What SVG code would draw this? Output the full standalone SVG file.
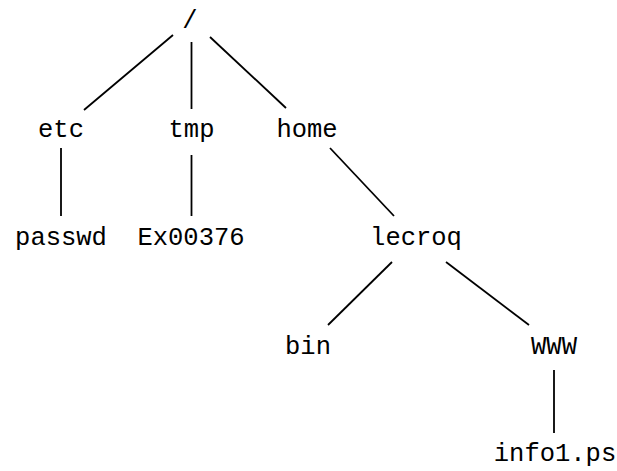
<svg xmlns="http://www.w3.org/2000/svg" width="617" height="471" viewBox="0 0 617 471">
<style>
.t{font-family:"Liberation Mono","DejaVu Sans Mono",monospace;font-size:25.5px;fill:#000;text-anchor:middle}
.c line{stroke:#000;stroke-width:1.8}
</style>
<rect width="617" height="471" fill="#fff"/>
<g class="c" id="connectors">
<line x1="173" y1="35" x2="84" y2="110"/>
<line x1="191.5" y1="42" x2="191.5" y2="109"/>
<line x1="210" y1="37" x2="286" y2="108"/>
<line x1="61" y1="148" x2="61" y2="216"/>
<line x1="191.5" y1="155" x2="191.5" y2="216"/>
<line x1="330" y1="148" x2="394" y2="216"/>
<line x1="392" y1="262" x2="328" y2="325"/>
<line x1="446" y1="262" x2="529" y2="325"/>
<line x1="554" y1="370" x2="554" y2="433"/>
</g>
<g id="root"><text class="t" x="190" y="28">/</text></g>
<g id="etc"><text class="t" x="61" y="137">etc</text></g>
<g id="tmp"><text class="t" x="191.5" y="137">tmp</text></g>
<g id="home"><text class="t" x="307" y="137">home</text></g>
<g id="passwd"><text class="t" x="61" y="245">passwd</text></g>
<g id="Ex00376"><text class="t" x="191" y="245">Ex00376</text></g>
<g id="lecroq"><text class="t" x="416" y="245">lecroq</text></g>
<g id="bin"><text class="t" x="308" y="354">bin</text></g>
<g id="WWW"><text class="t" x="554" y="354">WWW</text></g>
<g id="info1ps"><text class="t" x="555" y="461">info1.ps</text></g>
</svg>
